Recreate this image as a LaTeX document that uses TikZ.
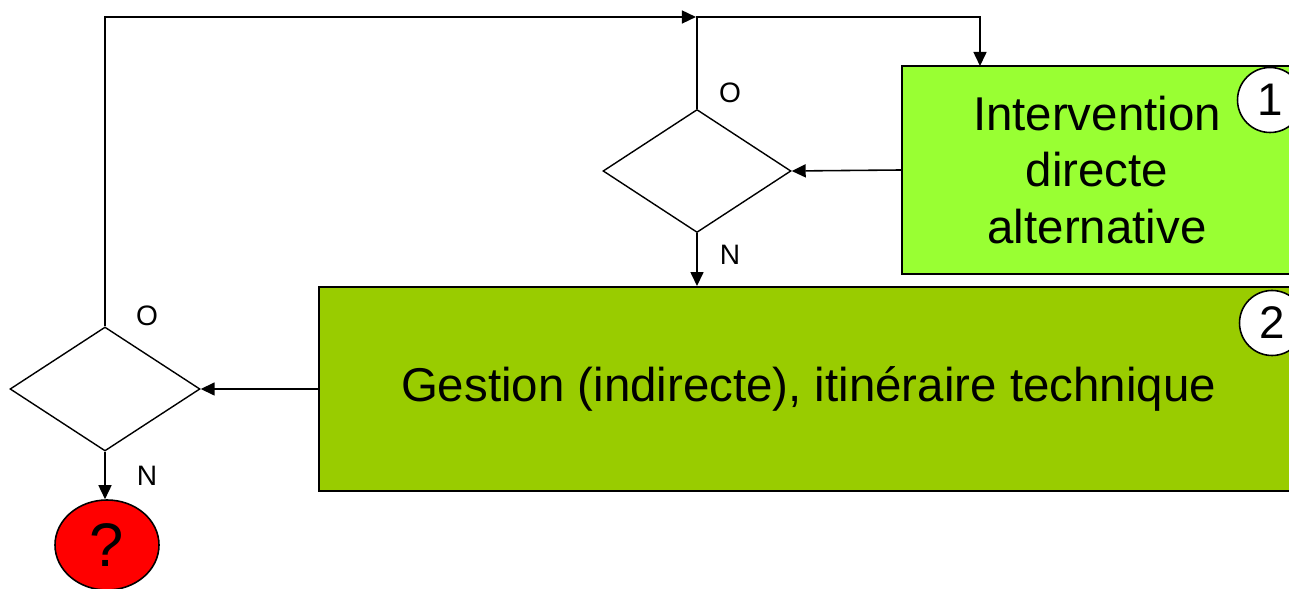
\documentclass[tikz,border=0pt]{standalone}
\usepackage{fontspec}
\setmainfont{Liberation Sans}
\usepackage{xcolor}
\usepackage{tikz}
\usetikzlibrary{arrows.meta,positioning,shapes.geometric}
\definecolor{vertclair}{RGB}{153,255,51}
\definecolor{vertolive}{RGB}{153,204,0}
\definecolor{rouge}{RGB}{255,0,0}

\begin{document}
\begin{tikzpicture}[
    action/.style={rectangle, draw=black, line width=1.1pt,
                   align=center, inner sep=0pt,
                   font=\fontsize{27}{32.3}\selectfont},
    test/.style={diamond, draw=black, line width=0.8pt, inner sep=0pt},
    numero/.style={circle, draw=black, fill=white, line width=0.9pt,
                   inner sep=0pt, minimum size=1.3cm,
                   font=\fontsize{26}{26}\selectfont},
    fin/.style={ellipse, draw=black, fill=rouge, line width=0.9pt,
                inner sep=0pt, minimum width=2.08cm, minimum height=1.8cm,
                font=\fontsize{35}{35}\selectfont},
    rep/.style={font=\fontsize{16}{16}\selectfont},
    arr/.style={-{Triangle[length=2.8mm,width=2.6mm]}, line width=0.9pt},
  ]
  \useasboundingbox (0,0) rectangle (25.78,11.78);
  \clip (0,0) rectangle (25.78,11.78);

  % Actions
  \node[action, fill=vertclair, minimum width=7.8cm, minimum height=4.16cm]
    (inter) at (21.94, 8.38) {Intervention\\directe\\alternative};
  \node[action, fill=vertolive, minimum width=19.58cm, minimum height=4.08cm]
    (gestion) at (16.17, 4.0) {Gestion (indirecte), itinéraire technique};

  % Numeros
  \node[numero] (n1) at (25.4, 9.78) {1};
  \node[numero] (n2) at (25.44, 5.32) {2};

  % Tests
  \node[test, minimum width=3.76cm, minimum height=2.46cm] (t1) at (13.94, 8.36) {};
  \node[test, minimum width=3.8cm, minimum height=2.48cm] (t2) at (2.1, 4.0) {};

  % Issue
  \node[fin] (fin) at (2.14, 0.88) {?};

  % Points de passage
  \coordinate (coin) at (13.94, 11.44);
  \coordinate (entree) at (19.6, 10.46);

  % Fleches
  \draw[arr] (inter.west) -- (t1.east);
  \draw[arr] (t1.south) -- (t1.south |- gestion.north);
  \draw[arr] (t1.north) |- (coin) -| (entree);
  \draw[arr] (gestion.west) -- (t2.east);
  \draw[arr] (t2.north) |- ([xshift=-0.6pt]coin);
  \draw[arr] (t2.south) -- (t2.south |- fin.north);

  % Reponses
  \node[rep] (o1) at (14.6, 9.92) {O};
  \node[rep] (r1) at (14.6, 6.68) {N};
  \node[rep] (o2) at (2.94, 5.46) {O};
  \node[rep] (r2) at (2.94, 2.26) {N};
\end{tikzpicture}
\end{document}
